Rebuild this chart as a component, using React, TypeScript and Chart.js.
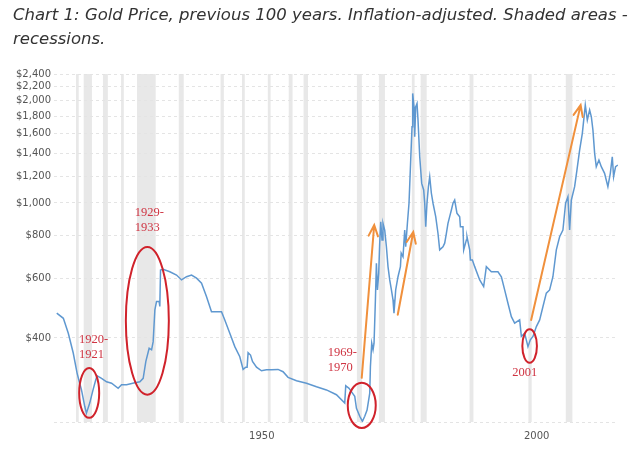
import React, { useEffect, useRef } from "react";
import { Chart, registerables } from "chart.js";

Chart.register(...registerables);

// ---- data (years on the chart's own axis, inflation-adjusted USD) ----
const years: number[] = [
  1912.7, 1913.9, 1914.8, 1915.7, 1916.4, 1916.8, 1917.2, 1917.8, 1918.1, 1918.7,
  1919.3, 1919.8, 1920.05, 1920.85, 1921.76, 1922.67, 1923.87, 1924.49, 1925.4, 1926.91,
  1927.82, 1928.42, 1928.91, 1929.51, 1929.95, 1930.24, 1930.55, 1930.85, 1931.33, 1931.45,
  1931.58, 1932.05, 1933.27, 1934.49, 1935.4, 1936.31, 1937.22, 1938.13, 1939.04, 1939.95,
  1940.85, 1941.76, 1942.67, 1943.27, 1944.18, 1945.09, 1946.0, 1946.6, 1947.09, 1947.33,
  1947.51, 1947.95, 1948.31, 1949.04, 1949.95, 1950.85, 1951.76, 1952.96, 1953.87, 1954.78,
  1956.31, 1958.13, 1959.95, 1961.76, 1963.58, 1965.09, 1965.27, 1965.87, 1966.49, 1966.91,
  1967.22, 1967.82, 1968.31, 1968.73, 1969.15, 1969.64, 1969.76, 1970.0, 1970.24, 1970.42,
  1970.67, 1970.85, 1971.04, 1971.27, 1971.45, 1971.64, 1971.87, 1972.05, 1972.36, 1972.67,
  1972.96, 1973.27, 1973.58, 1973.87, 1974.05, 1974.36, 1974.78, 1975.22, 1975.36, 1975.69,
  1976.0, 1976.18, 1976.49, 1976.78, 1977.09, 1977.33, 1977.45, 1977.69, 1977.82, 1978.0,
  1978.24, 1978.42, 1978.73, 1979.09, 1979.45, 1979.64, 1979.82, 1980.05, 1980.31, 1980.55,
  1980.85, 1981.15, 1981.64, 1982.05, 1982.36, 1982.96, 1983.27, 1983.58, 1983.87, 1984.18,
  1984.49, 1984.78, 1985.09, 1985.51, 1986.0, 1986.13, 1986.6, 1986.73, 1987.22, 1987.33,
  1987.82, 1987.95, 1988.31, 1988.73, 1989.64, 1990.36, 1990.85, 1991.76, 1992.96, 1993.58,
  1994.18, 1994.78, 1995.4, 1996.0, 1996.91, 1997.22, 1997.82, 1998.42, 1998.85, 1999.33,
  1999.95, 2000.55, 2001.15, 2001.76, 2002.36, 2002.96, 2003.58, 2004.18, 2004.78, 2005.27,
  2005.69, 2006.0, 2006.31, 2006.91, 2007.33, 2007.82, 2008.31, 2008.85, 2009.22, 2009.64,
  2009.95, 2010.24, 2010.55, 2010.85, 2011.33, 2011.76, 2012.36, 2012.96, 2013.4, 2013.76,
  2014.0, 2014.36, 2014.78,
];

const prices: number[] = [
  473, 457, 413, 361, 315, 297, 281, 251, 240, 257,
  281, 301, 309, 304, 297, 294, 284, 291, 291, 295,
  297, 304, 341, 373, 369, 390, 484, 512, 512, 495,
  634, 637, 627, 613, 593, 606, 613, 600, 580, 529,
  478, 478, 478, 452, 413, 377, 352, 323, 328, 328,
  362, 356, 341, 328, 320, 322, 322, 323, 318, 306,
  299, 294, 287, 281, 272, 257, 289, 284, 275, 269,
  248, 235, 227, 235, 245, 275, 329, 386, 369, 386,
  518, 664, 554, 620, 761, 880, 778, 871, 832, 743,
  649, 593, 554, 518, 473, 554, 606, 649, 711, 694,
  832, 743, 871, 998, 1338, 1677, 2104, 1921, 1567, 1921,
  1966, 1755, 1368, 1142, 1092, 998, 851, 998, 1117, 1195,
  1068, 998, 911, 814, 727, 743, 761, 814, 871, 911,
  953, 998, 1020, 932, 911, 851, 851, 727, 778, 795,
  727, 679, 679, 649, 593, 567, 649, 627, 627, 606,
  554, 506, 462, 442, 452, 404, 413, 377, 395, 404,
  432, 452, 495, 542, 554, 606, 727, 795, 832, 998,
  1043, 832, 1020, 1117, 1250, 1432, 1604, 1943, 1755, 1879,
  1795, 1640, 1400, 1279, 1338, 1279, 1223, 1117, 1223, 1368,
  1195, 1279, 1294,
];

// recession bands [start, end] on the chart's year axis
const recessions: [number, number][] = [
  [1916.2, 1916.7], [1917.6, 1919.1], [1921.1, 1922.0], [1924.4, 1924.9],
  [1927.3, 1930.7], [1934.9, 1935.8], [1942.5, 1943.1], [1946.4, 1946.9],
  [1951.1, 1951.6], [1954.9, 1955.6], [1957.6, 1958.4], [1967.3, 1968.2],
  [1971.3, 1972.4], [1977.3, 1977.8], [1978.9, 1980.0], [1987.8, 1988.5],
  [1998.5, 1999.1], [2005.3, 2006.5],
];

const yMin = 226;
const yMax = 2400;
const yTickValues: number[] = [226, 400, 600, 800, 1000, 1200, 1400, 1600, 1800, 2000, 2200, 2400];
const xTickValues: number[] = [1950, 2000];
const xMin = 1912.2;
const xMax = 2014.8;

// annotations, in data units (year, price)
const ellipseYears: [number, number][] = [
  [1916.78, 1920.42], [1925.27, 1933.09], [1965.64, 1970.73], [1997.4, 2000.05],
];
const ellipsePrices: [number, number][] = [
  [232.5, 326], [272, 742], [217, 295], [338, 424],
];
const noteTexts: string[][] = [["1920-", "1921"], ["1929-", "1933"], ["1969-", "1970"], ["2001"]];
const noteYears: number[] = [1916.73, 1926.91, 1962.0, 1997.82];
const notePrices: number[] = [394.6, 934, 361, 315];
const noteAlign: CanvasTextAlign[] = ["left", "left", "left", "center"];
const arrowFrom: [number, number][] = [[1968.18, 305], [1974.73, 468], [1999.0, 452]];
const arrowTo: [number, number][] = [[1970.45, 861], [1977.55, 821], [2008.0, 1943]];

const bandPlugin = {
  id: "bands",
  beforeDraw(chart: any) {
    const { ctx, chartArea, scales } = chart;
    const x = scales.x;
    ctx.save();
    ctx.fillStyle = "#e8e8e8";
    recessions.forEach(([a, b]) => {
      const p0 = x.getPixelForValue(a);
      const p1 = x.getPixelForValue(b);
      ctx.fillRect(p0, chartArea.top, p1 - p0, chartArea.bottom - chartArea.top);
    });
    ctx.restore();
  },
};

const annotPlugin = {
  id: "annot",
  afterDraw(chart: any) {
    const { ctx, scales } = chart;
    const x = scales.x;
    const y = scales.y;
    ctx.save();
    // arrows
    ctx.strokeStyle = "#f0903c";
    ctx.lineWidth = 2;
    ctx.lineCap = "round";
    arrowFrom.forEach((f, i) => {
      const t = arrowTo[i];
      const x0 = x.getPixelForValue(f[0]);
      const y0 = y.getPixelForValue(f[1]);
      const x1 = x.getPixelForValue(t[0]);
      const y1 = y.getPixelForValue(t[1]);
      const ang = Math.atan2(y1 - y0, x1 - x0);
      const L = 12;
      const s = 0.4;
      ctx.beginPath();
      ctx.moveTo(x0, y0);
      ctx.lineTo(x1, y1);
      ctx.moveTo(x1 - L * Math.cos(ang - s), y1 - L * Math.sin(ang - s));
      ctx.lineTo(x1, y1);
      ctx.lineTo(x1 - L * Math.cos(ang + s), y1 - L * Math.sin(ang + s));
      ctx.stroke();
    });
    // ellipses
    ctx.strokeStyle = "#d0222b";
    ctx.lineWidth = 2;
    ellipseYears.forEach((ey, i) => {
      const ep = ellipsePrices[i];
      const px0 = x.getPixelForValue(ey[0]);
      const px1 = x.getPixelForValue(ey[1]);
      const py0 = y.getPixelForValue(ep[0]);
      const py1 = y.getPixelForValue(ep[1]);
      ctx.beginPath();
      ctx.ellipse((px0 + px1) / 2, (py0 + py1) / 2, Math.abs(px1 - px0) / 2, Math.abs(py1 - py0) / 2, 0, 0, Math.PI * 2);
      ctx.stroke();
    });
    // labels
    ctx.fillStyle = "#cf3442";
    ctx.font = '12.5px "Liberation Serif", "Times New Roman", serif';
    ctx.textBaseline = "middle";
    noteTexts.forEach((lines, i) => {
      const px = x.getPixelForValue(noteYears[i]);
      const py = y.getPixelForValue(notePrices[i]);
      ctx.textAlign = noteAlign[i];
      lines.forEach((ln, j) => ctx.fillText(ln, px, py + j * 15));
    });
    ctx.restore();
  },
};

export default function App() {
  const ref = useRef<HTMLCanvasElement | null>(null);

  useEffect(() => {
    if (!ref.current) return;
    const axisFont = { family: '"DejaVu Sans", Verdana, sans-serif', size: 10 };
    const chart = new Chart(ref.current, {
      type: "line",
      data: {
        datasets: [
          {
            label: "Gold price (inflation-adjusted)",
            data: years.map((yr, i) => ({ x: yr, y: prices[i] })),
            borderColor: "#5f98d0",
            borderWidth: 1.5,
            pointRadius: 0,
            tension: 0,
            fill: false,
          },
        ],
      },
      options: {
        animation: false,
        responsive: false,
        layout: { padding: { top: 74, right: 22, left: 0, bottom: 0 } },
        plugins: { legend: { display: false }, tooltip: { enabled: false }, title: { display: false } },
        scales: {
          x: {
            type: "linear",
            min: xMin,
            max: xMax,
            grid: { display: false, drawTicks: false },
            border: { display: false },
            afterBuildTicks: (scale: any) => {
              scale.ticks = xTickValues.map((v) => ({ value: v }));
            },
            afterFit: (scale: any) => {
              scale.height = 34;
            },
            ticks: {
              padding: 8,
              color: "#555",
              font: axisFont,
              maxRotation: 0,
              callback: (v: any) => String(v),
            },
          },
          y: {
            type: "logarithmic",
            min: yMin,
            max: yMax,
            grid: { color: "#e4e4e4", lineWidth: 1, drawTicks: false },
            border: { display: false, dash: [3, 3] },
            afterBuildTicks: (scale: any) => {
              scale.ticks = yTickValues.map((v) => ({ value: v }));
            },
            afterFit: (scale: any) => {
              scale.width = 54;
            },
            ticks: {
              padding: 3,
              color: "#555",
              font: axisFont,
              autoSkip: false,
              callback: (v: any) => (v < 300 ? "" : "$" + Number(v).toLocaleString("en-US")),
            },
          },
        },
      },
      plugins: [bandPlugin, annotPlugin],
    });
    return () => chart.destroy();
  }, []);

  return (
    <div style={{ position: "fixed", left: 0, top: 0, width: 640, height: 456, background: "#fff", overflow: "hidden" }}>
      <canvas ref={ref} width={640} height={456} style={{ position: "absolute", left: 0, top: 0 }} />
      <div
        style={{
          position: "absolute",
          left: 13,
          top: 3,
          fontFamily: '"DejaVu Sans", Verdana, sans-serif',
          fontStyle: "italic",
          fontSize: 16.5,
          lineHeight: "24px",
          color: "#333",
          whiteSpace: "nowrap",
        }}
      >
        Chart 1: Gold Price, previous 100 years. Inflation-adjusted. Shaded areas -
        <br />
        recessions.
      </div>
    </div>
  );
}
